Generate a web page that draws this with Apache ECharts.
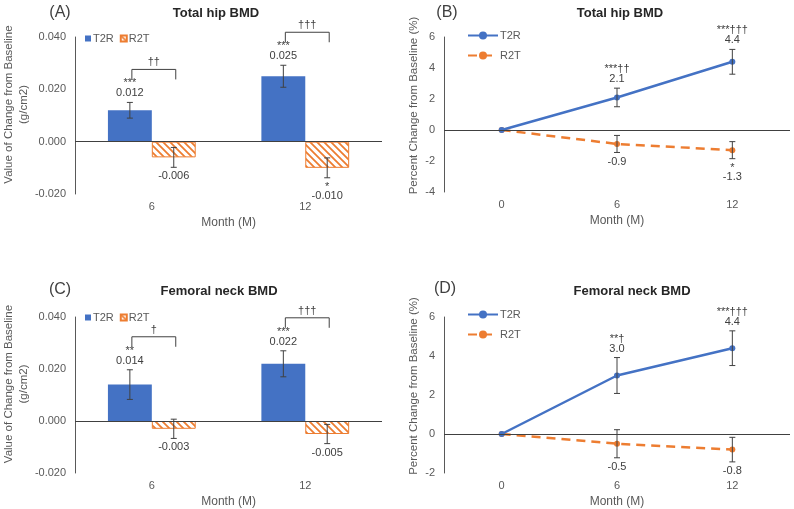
<!DOCTYPE html>
<html>
<head>
<meta charset="utf-8">
<script src="https://cdn.jsdelivr.net/npm/echarts@6/dist/echarts.min.js"></script>
<style>
  html, body { margin: 0; padding: 0; background: #fff; }
  #main { width: 794px; height: 509px; }
</style>
</head>
<body>
<div id="main"></div>
<script>
// categories
var barMonths = ['6', '12'];
var lineMonths = ['0', '6', '12'];

// (A) total hip, change in g/cm2
var hipT2R = [0.012, 0.025];
var hipT2RErr = [0.003, 0.0042];
var hipR2T = [-0.006, -0.010];
var hipR2TErr = [0.0038, 0.0038];
var hipT2RSig = ['***', '***'];
var hipR2TSig = ['', '*'];
var hipBetween = ['\u2020\u2020', '\u2020\u2020\u2020'];

// (B) total hip, percent change
var hipPctT2R = [0, 2.1, 4.4];
var hipPctT2RErr = [0, 0.6, 0.8];
var hipPctR2T = [0, -0.9, -1.3];
var hipPctR2TErr = [0, 0.55, 0.55];
var hipPctT2RSig = ['', '***\u2020\u2020', '***\u2020\u2020\u2020'];
var hipPctR2TSig = ['', '', '*'];

// (C) femoral neck, change in g/cm2
var neckT2R = [0.014, 0.022];
var neckT2RErr = [0.0057, 0.005];
var neckR2T = [-0.003, -0.005];
var neckR2TErr = [0.0037, 0.0037];
var neckT2RSig = ['**', '***'];
var neckR2TSig = ['', ''];
var neckBetween = ['\u2020', '\u2020\u2020\u2020'];

// (D) femoral neck, percent change
var neckPctT2R = [0, 3.0, 4.4];
var neckPctT2RErr = [0, 0.92, 0.89];
var neckPctR2T = [0, -0.5, -0.8];
var neckPctR2TErr = [0, 0.72, 0.63];
var neckPctT2RSig = ['', '**\u2020', '***\u2020\u2020\u2020'];
var neckPctR2TSig = ['', '', ''];

var BLUE = '#4472C4';
var ORANGE = '#ED7D31';
var TXT = '#595959';
var DARK = '#404040';
var FONT = 'Liberation Sans, Arial, sans-serif';
var BAR_FRAC = 0.143;

// wide downward diagonal hatch
var hatch = document.createElement('canvas');
hatch.width = 7; hatch.height = 7;
var hc = hatch.getContext('2d');
hc.fillStyle = '#fff';
hc.fillRect(0, 0, 7, 7);
hc.strokeStyle = ORANGE;
hc.lineWidth = 1.8;
hc.beginPath();
hc.moveTo(-1, -1); hc.lineTo(8, 8);
hc.moveTo(-1, 6); hc.lineTo(1, 8);
hc.moveTo(6, -1); hc.lineTo(8, 1);
hc.stroke();

var zeroLine = {
    silent: true, symbol: 'none', label: {show: false},
    lineStyle: {color: DARK, type: 'solid', width: 1},
    data: [{yAxis: 0}]
};

function errSeries(idx, mean, err, sig, dir, offset, decimals) {
    return {
        type: 'custom', xAxisIndex: idx, yAxisIndex: idx, z: 5, silent: true,
        data: mean.map(function (v, i) { return [i, v, err[i]]; }),
        renderItem: function (params, api) {
            var i = api.value(0), v = api.value(1), e = api.value(2);
            if (!e) return {type: 'group', children: []};
            var band = api.size([1, 0])[0];
            var cx = api.coord([i, v])[0] + band * offset;
            var yT = api.coord([i, v + e])[1];
            var yB = api.coord([i, v - e])[1];
            var st = {stroke: DARK, lineWidth: 1};
            var kids = [
                {type: 'line', shape: {x1: cx, y1: yT, x2: cx, y2: yB}, style: st},
                {type: 'line', shape: {x1: cx - 3, y1: yT, x2: cx + 3, y2: yT}, style: st},
                {type: 'line', shape: {x1: cx - 3, y1: yB, x2: cx + 3, y2: yB}, style: st}
            ];
            var s = sig[params.dataIndex];
            var valTxt = v.toFixed(decimals);
            var tstyle = function (t, y) {
                return {type: 'text', style: {text: t, x: cx, y: y, align: 'center', verticalAlign: 'middle',
                    fill: DARK, font: '11px ' + FONT}};
            };
            if (dir < 0) {
                kids.push(tstyle(valTxt, yT - 9));
                if (s) kids.push(tstyle(s, yT - 19));
            } else if (s) {
                kids.push(tstyle(s, yB + 9));
                kids.push(tstyle(valTxt, yB + 18));
            } else {
                kids.push(tstyle(valTxt, yB + 9));
            }
            return {type: 'group', children: kids};
        }
    };
}

function bracketSeries(idx, mean, err, between) {
    return {
        type: 'custom', xAxisIndex: idx, yAxisIndex: idx, z: 5, silent: true,
        data: mean.map(function (v, i) { return [i, v + err[i]]; }),
        renderItem: function (params, api) {
            var i = api.value(0);
            var band = api.size([1, 0])[0];
            var c = api.coord([i, api.value(1)]);
            var x1 = c[0] - band * BAR_FRAC + 2, x2 = c[0] + band * BAR_FRAC + 2;
            var top = c[1] - 33;
            var st = {stroke: DARK, lineWidth: 1, fill: null};
            return {type: 'group', children: [
                {type: 'polyline', shape: {points: [[x1, top + 10], [x1, top], [x2, top], [x2, top + 10]]}, style: st},
                {type: 'text', style: {text: between[params.dataIndex], x: (x1 + x2) / 2, y: top - 7,
                    align: 'center', verticalAlign: 'middle', fill: DARK, font: '11px ' + FONT}}
            ]};
        }
    };
}

function barPanel(idx, p, t2r, t2rErr, r2t, r2tErr, t2rSig, r2tSig, between) {
    return [
        {name: p + 'T2R', type: 'bar', xAxisIndex: idx, yAxisIndex: idx, data: t2r,
            barWidth: '28.6%', barGap: '0%', itemStyle: {color: BLUE}, markLine: zeroLine},
        {name: p + 'R2T', type: 'bar', xAxisIndex: idx, yAxisIndex: idx, data: r2t,
            barWidth: '28.6%', barGap: '0%',
            itemStyle: {color: {image: hatch, repeat: 'repeat'}, borderColor: ORANGE, borderWidth: 1}},
        errSeries(idx, t2r, t2rErr, t2rSig, -1, -BAR_FRAC, 3),
        errSeries(idx, r2t, r2tErr, r2tSig, 1, BAR_FRAC, 3),
        bracketSeries(idx, t2r, t2rErr, between)
    ];
}

function linePanel(idx, p, t2r, t2rErr, r2t, r2tErr, t2rSig, r2tSig) {
    return [
        {name: p + 'T2R', type: 'line', xAxisIndex: idx, yAxisIndex: idx, data: t2r,
            symbol: 'circle', symbolSize: 6, itemStyle: {color: BLUE},
            lineStyle: {color: BLUE, width: 2.5}, markLine: zeroLine, z: 3},
        {name: p + 'R2T', type: 'line', xAxisIndex: idx, yAxisIndex: idx, data: r2t,
            symbol: 'circle', symbolSize: 6, itemStyle: {color: ORANGE},
            lineStyle: {color: ORANGE, width: 2.5, type: [9, 6]}, z: 2},
        errSeries(idx, t2r, t2rErr, t2rSig, -1, 0, 1),
        errSeries(idx, r2t, r2tErr, r2tSig, 1, 0, 1)
    ];
}

function xAx(idx, cats) {
    return {
        type: 'category', gridIndex: idx, data: cats,
        axisLine: {show: false}, axisTick: {show: false},
        axisLabel: {color: TXT, fontSize: 11, fontFamily: FONT, margin: 7},
        name: 'Month (M)', nameLocation: 'middle', nameGap: 23,
        nameTextStyle: {color: TXT, fontSize: 12, fontFamily: FONT}
    };
}

function yAx(idx, min, max, interval, dec, name, gap, pad) {
    return {
        type: 'value', gridIndex: idx, min: min, max: max, interval: interval,
        axisLine: {show: true, lineStyle: {color: TXT}}, axisTick: {show: false},
        splitLine: {show: false},
        axisLabel: {color: TXT, fontSize: 11, fontFamily: FONT, margin: 9,
            formatter: function (v) { return v.toFixed(dec); }},
        name: name, nameLocation: 'middle', nameGap: gap, nameRotate: 90,
        nameTextStyle: {color: TXT, fontSize: 11.5, fontFamily: FONT, lineHeight: 15, padding: pad}
    };
}

function titles(x, y, text, lx, ly, letter) {
    return [
        {text: text, left: x, top: y, textAlign: 'center',
            textStyle: {color: '#262626', fontSize: 13, fontWeight: 'bold', fontFamily: FONT}},
        {text: letter, left: lx, top: ly, textAlign: 'center',
            textStyle: {color: DARK, fontSize: 16, fontWeight: 'normal', fontFamily: FONT}}
    ];
}

function legendBar(x, y, p) {
    return {
        left: x, top: y, itemWidth: 6, itemHeight: 6, itemGap: 6, icon: 'rect',
        data: [p + 'T2R', p + 'R2T'], selectedMode: false,
        formatter: function (n) { return n.slice(2); },
        textStyle: {color: TXT, fontSize: 11, fontFamily: FONT, padding: [0, 0, 0, -3]}
    };
}

function legendLine(x, y, p) {
    return {
        left: x, top: y, orient: 'vertical', itemWidth: 30, itemHeight: 10, itemGap: 9,
        data: [p + 'T2R', p + 'R2T'], selectedMode: false,
        formatter: function (n) { return n.slice(2); },
        textStyle: {color: TXT, fontSize: 11, fontFamily: FONT, padding: [0, 0, 0, -3]}
    };
}

var chart = echarts.init(document.getElementById('main'));
var yNameBar = 'Value of Change from Baseline\n(g/cm2)';
var yNameLine = 'Percent Change from Baseline (%)';

var option = {
    animation: false,
    backgroundColor: '#fff',
    title: [].concat(
        titles(211, 2, 'Total hip BMD', 55, 0, '(A)'),
        titles(615, 2, 'Total hip BMD', 442, 0, '(B)'),
        titles(214, 280, 'Femoral neck BMD', 55, 277, '(C)'),
        titles(627, 280, 'Femoral neck BMD', 440, 276, '(D)')
    ),
    legend: [
        legendBar(80, 28, 'A-'),
        legendLine(462, 25, 'B-'),
        legendBar(80, 307, 'C-'),
        legendLine(462, 304, 'D-')
    ],
    grid: [
        {left: 67, top: 37, width: 315, height: 157},
        {left: 444, top: 37, width: 346, height: 155},
        {left: 67, top: 317, width: 315, height: 156},
        {left: 444, top: 317, width: 346, height: 157}
    ],
    xAxis: [xAx(0, barMonths), xAx(1, lineMonths), xAx(2, barMonths), xAx(3, lineMonths)],
    yAxis: [
        yAx(0, -0.02, 0.04, 0.02, 3, yNameBar, 40, [0, 0, 0, 22]),
        yAx(1, -4, 6, 2, 0, yNameLine, 22, [0, 0, 0, 18]),
        yAx(2, -0.02, 0.04, 0.02, 3, yNameBar, 40, [0, 0, 0, 22]),
        yAx(3, -2, 6, 2, 0, yNameLine, 22, [0, 0, 0, 18])
    ],
    series: [].concat(
        barPanel(0, 'A-', hipT2R, hipT2RErr, hipR2T, hipR2TErr, hipT2RSig, hipR2TSig, hipBetween),
        linePanel(1, 'B-', hipPctT2R, hipPctT2RErr, hipPctR2T, hipPctR2TErr, hipPctT2RSig, hipPctR2TSig),
        barPanel(2, 'C-', neckT2R, neckT2RErr, neckR2T, neckR2TErr, neckT2RSig, neckR2TSig, neckBetween),
        linePanel(3, 'D-', neckPctT2R, neckPctT2RErr, neckPctR2T, neckPctR2TErr, neckPctT2RSig, neckPctR2TSig)
    )
};
chart.setOption(option);
</script>
</body>
</html>
